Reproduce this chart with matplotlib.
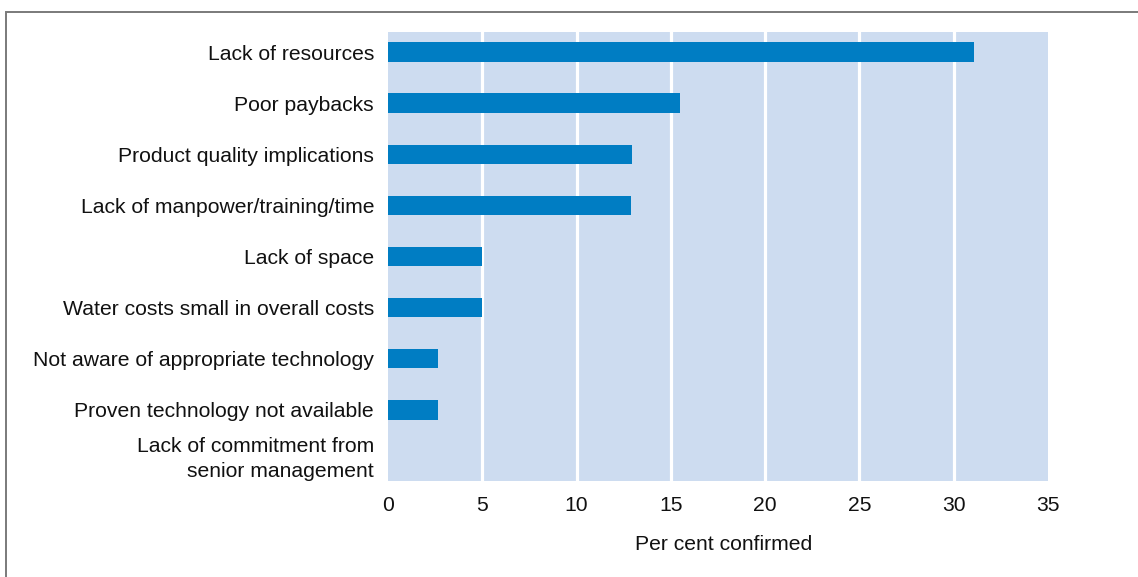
import matplotlib
matplotlib.use("Agg")
import matplotlib.pyplot as plt
from matplotlib.patches import Rectangle
from matplotlib.transforms import ScaledTranslation

plt.rcParams['font.family'] = ['Liberation Sans', 'DejaVu Sans']

categories = [
    "Lack of resources",
    "Poor paybacks",
    "Product quality implications",
    "Lack of manpower/training/time",
    "Lack of space",
    "Water costs small in overall costs",
    "Not aware of appropriate technology",
    "Proven technology not available",
    "Lack of commitment from\nsenior management",
]
values = [31.1, 15.5, 12.95, 12.9, 5.0, 5.0, 2.65, 2.65, 0.0]
xticks = [0, 5, 10, 15, 20, 25, 30, 35]
xlabel = "Per cent confirmed"

W, H = 1138, 577
FS = 15.2
fig = plt.figure(figsize=(W / 100, H / 100), dpi=100)

# outer frame running off the right and bottom edges
fig.patches.append(Rectangle((6 / W, -0.1), 1.2, 1 - 12 / H + 0.1,
                             transform=fig.transFigure, fill=False,
                             edgecolor="#7a7a7a", linewidth=1.4))

ax = fig.add_axes([388 / W, 1 - 481 / H, 660 / W, 449 / H])
ax.set_facecolor("#cddcf0")
for s in ax.spines.values():
    s.set_visible(False)

for x in xticks[1:-1]:
    ax.axvline(x, color="white", linewidth=2.3, zorder=1)

ypos = list(range(len(categories)))
ax.barh(ypos, values, height=0.39, color="#007dc3", zorder=2)

ax.set_xlim(0, 35)
ax.set_ylim(len(categories) - 1 + 0.4, -0.4)
ax.set_yticks(ypos)
ax.set_yticklabels(categories, fontsize=FS, color="#111111", ha="right")
ax.set_xticks(xticks)
ax.set_xticklabels([str(t) for t in xticks], fontsize=FS, color="#111111")
ax.tick_params(axis="both", length=0)
ax.tick_params(axis="y", pad=10)
ax.tick_params(axis="x", pad=10.5)
ax.set_xlabel(xlabel, fontsize=FS, color="#111111", labelpad=15)
ax.xaxis.label.set_x(0.508)

# two-line label: a little more leading, nudged up slightly
last = ax.get_yticklabels()[-1]
last.set_linespacing(1.4)
last.set_transform(last.get_transform()
                   + ScaledTranslation(0, 7 / 100, fig.dpi_scale_trans))

fig.savefig("out.png", dpi=100)
